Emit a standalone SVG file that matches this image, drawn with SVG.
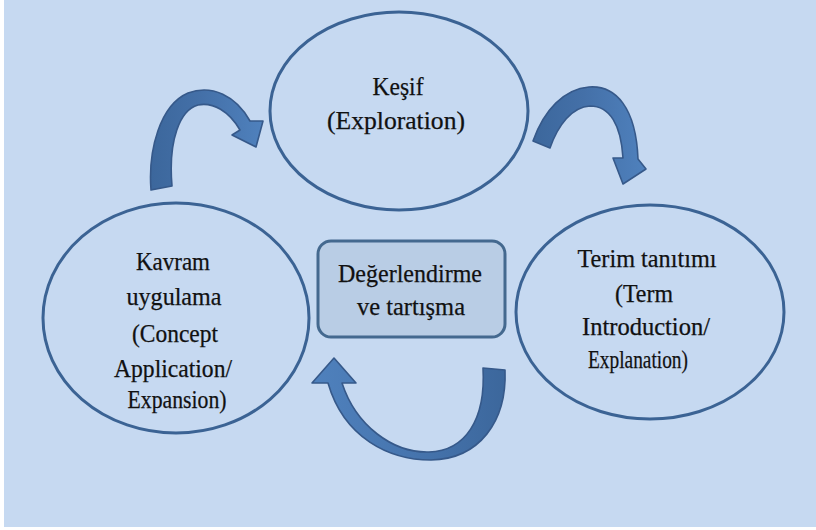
<svg xmlns="http://www.w3.org/2000/svg" width="816" height="530" viewBox="0 0 816 530">
  <defs>
    <linearGradient id="shadeLR" x1="0" y1="0" x2="1" y2="0">
      <stop offset="0" stop-color="#3c679c"/>
      <stop offset="0.45" stop-color="#4470a8"/>
      <stop offset="1" stop-color="#4f81bd"/>
    </linearGradient>
    <linearGradient id="shadeRL" x1="0" y1="0" x2="1" y2="0">
      <stop offset="0" stop-color="#4f81bd"/>
      <stop offset="0.55" stop-color="#4674ad"/>
      <stop offset="1" stop-color="#3c679c"/>
    </linearGradient>
    <style>
      .stage { fill: #c6d9f1; stroke: #3b6394; stroke-width: 3; }
      .hub { fill: #b9cde5; stroke: #44698f; stroke-width: 3; }
      .lbl { font-family: 'Liberation Serif', 'Times New Roman', serif; font-size: 25px; fill: #111; stroke: #111; stroke-width: 0.25; text-anchor: middle; }
      .arrow { stroke: #36598a; stroke-width: 1.6; stroke-linejoin: round; }
    </style>
  </defs>

  <!-- page background -->
  <rect x="0" y="0" width="816" height="530" fill="#ffffff"/>
  <rect x="4" y="0" width="812" height="527" fill="#c6d9f1"/>

  <!-- curved cycle arrows -->
  <g id="connectors">
    <path class="arrow" fill="url(#shadeLR)" d="M151,190 C148,150 160,105 188,93 C212,84 236,96 250,121 L263,121 L256,147 L232,135 L240,130 C229,111 213,102 198,105 C180,110 168,140 172,186 Z"/>
    <path class="arrow" fill="url(#shadeLR)" d="M533,141 C544,110 564,89 589,87 C616,85 636,108 638,159 L646,169 L623,184 L613,158 L623,158 C621,125 610,106 590,106 C572,107 558,125 550,148 Z"/>
    <path class="arrow" fill="url(#shadeRL)" d="M483,368 L505,370 C507,422 479,459 431,460 C389,460 344,438 328,383 L312,383 L334,358 L356,383 L342,383 C356,426 393,453 429,452 C465,451 486,420 483,368 Z"/>
  </g>

  <!-- Exploration -->
  <g id="node-explore">
    <ellipse class="stage" cx="399" cy="111" rx="129" ry="99"/>
    <text class="lbl" x="398" y="95" textLength="51" lengthAdjust="spacingAndGlyphs">Keşif</text>
    <text class="lbl" x="396" y="129" textLength="138" lengthAdjust="spacingAndGlyphs">(Exploration)</text>
  </g>

  <!-- Term introduction -->
  <g id="node-term">
    <ellipse class="stage" cx="650" cy="312" rx="134" ry="107"/>
    <text class="lbl" x="647" y="267" textLength="139" lengthAdjust="spacingAndGlyphs">Terim tanıtımı</text>
    <text class="lbl" x="644" y="302" textLength="58" lengthAdjust="spacingAndGlyphs">(Term</text>
    <text class="lbl" x="646" y="335" textLength="128" lengthAdjust="spacingAndGlyphs">Introduction/</text>
    <text class="lbl" x="638" y="368" textLength="100" lengthAdjust="spacingAndGlyphs">Explanation)</text>
  </g>

  <!-- Concept application -->
  <g id="node-concept">
    <ellipse class="stage" cx="176" cy="318" rx="133" ry="115"/>
    <text class="lbl" x="173" y="270" textLength="74" lengthAdjust="spacingAndGlyphs">Kavram</text>
    <text class="lbl" x="174" y="305" textLength="95" lengthAdjust="spacingAndGlyphs">uygulama</text>
    <text class="lbl" x="175" y="342" textLength="86" lengthAdjust="spacingAndGlyphs">(Concept</text>
    <text class="lbl" x="173" y="377" textLength="118" lengthAdjust="spacingAndGlyphs">Application/</text>
    <text class="lbl" x="177" y="408" textLength="99" lengthAdjust="spacingAndGlyphs">Expansion)</text>
  </g>

  <!-- Evaluation hub -->
  <g id="node-evaluate">
    <rect class="hub" x="318" y="241" width="187" height="96" rx="13"/>
    <text class="lbl" x="410" y="282" textLength="144" lengthAdjust="spacingAndGlyphs">Değerlendirme</text>
    <text class="lbl" x="411" y="315" textLength="108" lengthAdjust="spacingAndGlyphs">ve tartışma</text>
  </g>
</svg>
